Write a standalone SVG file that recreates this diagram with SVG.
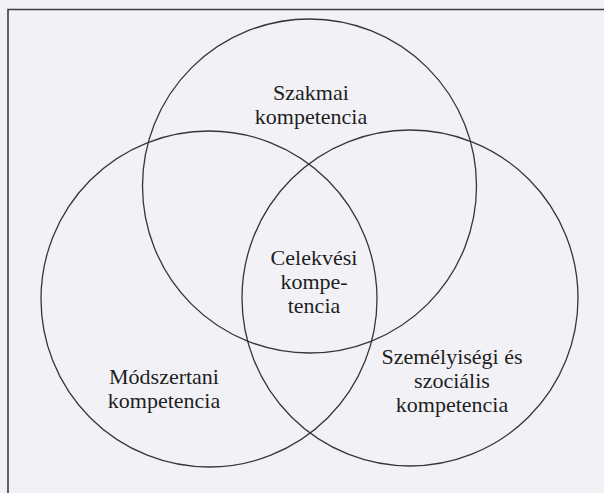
<svg xmlns="http://www.w3.org/2000/svg" width="604" height="493" viewBox="0 0 604 493">
  <style>
    .ring { fill: none; stroke: #363636; stroke-width: 1.3; }
    .frame { fill: none; stroke: #3c3c3c; stroke-width: 1.6; }
    .label { font-family: "Liberation Serif", "Times New Roman", "DejaVu Serif", serif; font-size: 22px; fill: #1e1e1e; text-anchor: middle; }
  </style>
  <rect x="0" y="0" width="604" height="493" fill="#f2f2f6"/>
  <!-- frame: only top and left edges fall inside the page -->
  <path class="frame" d="M8 493 V9.5 H604"/>

  <g id="circles">
    <circle id="szakmai-ring" class="ring" cx="309.5" cy="186" r="167"/>
    <circle id="modszertani-ring" class="ring" cx="209" cy="299" r="168"/>
    <circle id="szemelyisegi-ring" class="ring" cx="410" cy="298" r="168"/>
  </g>

  <g id="szakmai">
    <text class="label" x="311" y="100">Szakmai</text>
    <text class="label" x="311" y="124">kompetencia</text>
  </g>

  <g id="celekvesi">
    <text class="label" x="314" y="265">Celekvési</text>
    <text class="label" x="314" y="289">kompe-</text>
    <text class="label" x="314" y="313">tencia</text>
  </g>

  <g id="modszertani">
    <text class="label" x="164" y="384">Módszertani</text>
    <text class="label" x="164" y="408">kompetencia</text>
  </g>

  <g id="szemelyisegi">
    <text class="label" x="452" y="364">Személyiségi és</text>
    <text class="label" x="452" y="388">szociális</text>
    <text class="label" x="452" y="412">kompetencia</text>
  </g>
</svg>
